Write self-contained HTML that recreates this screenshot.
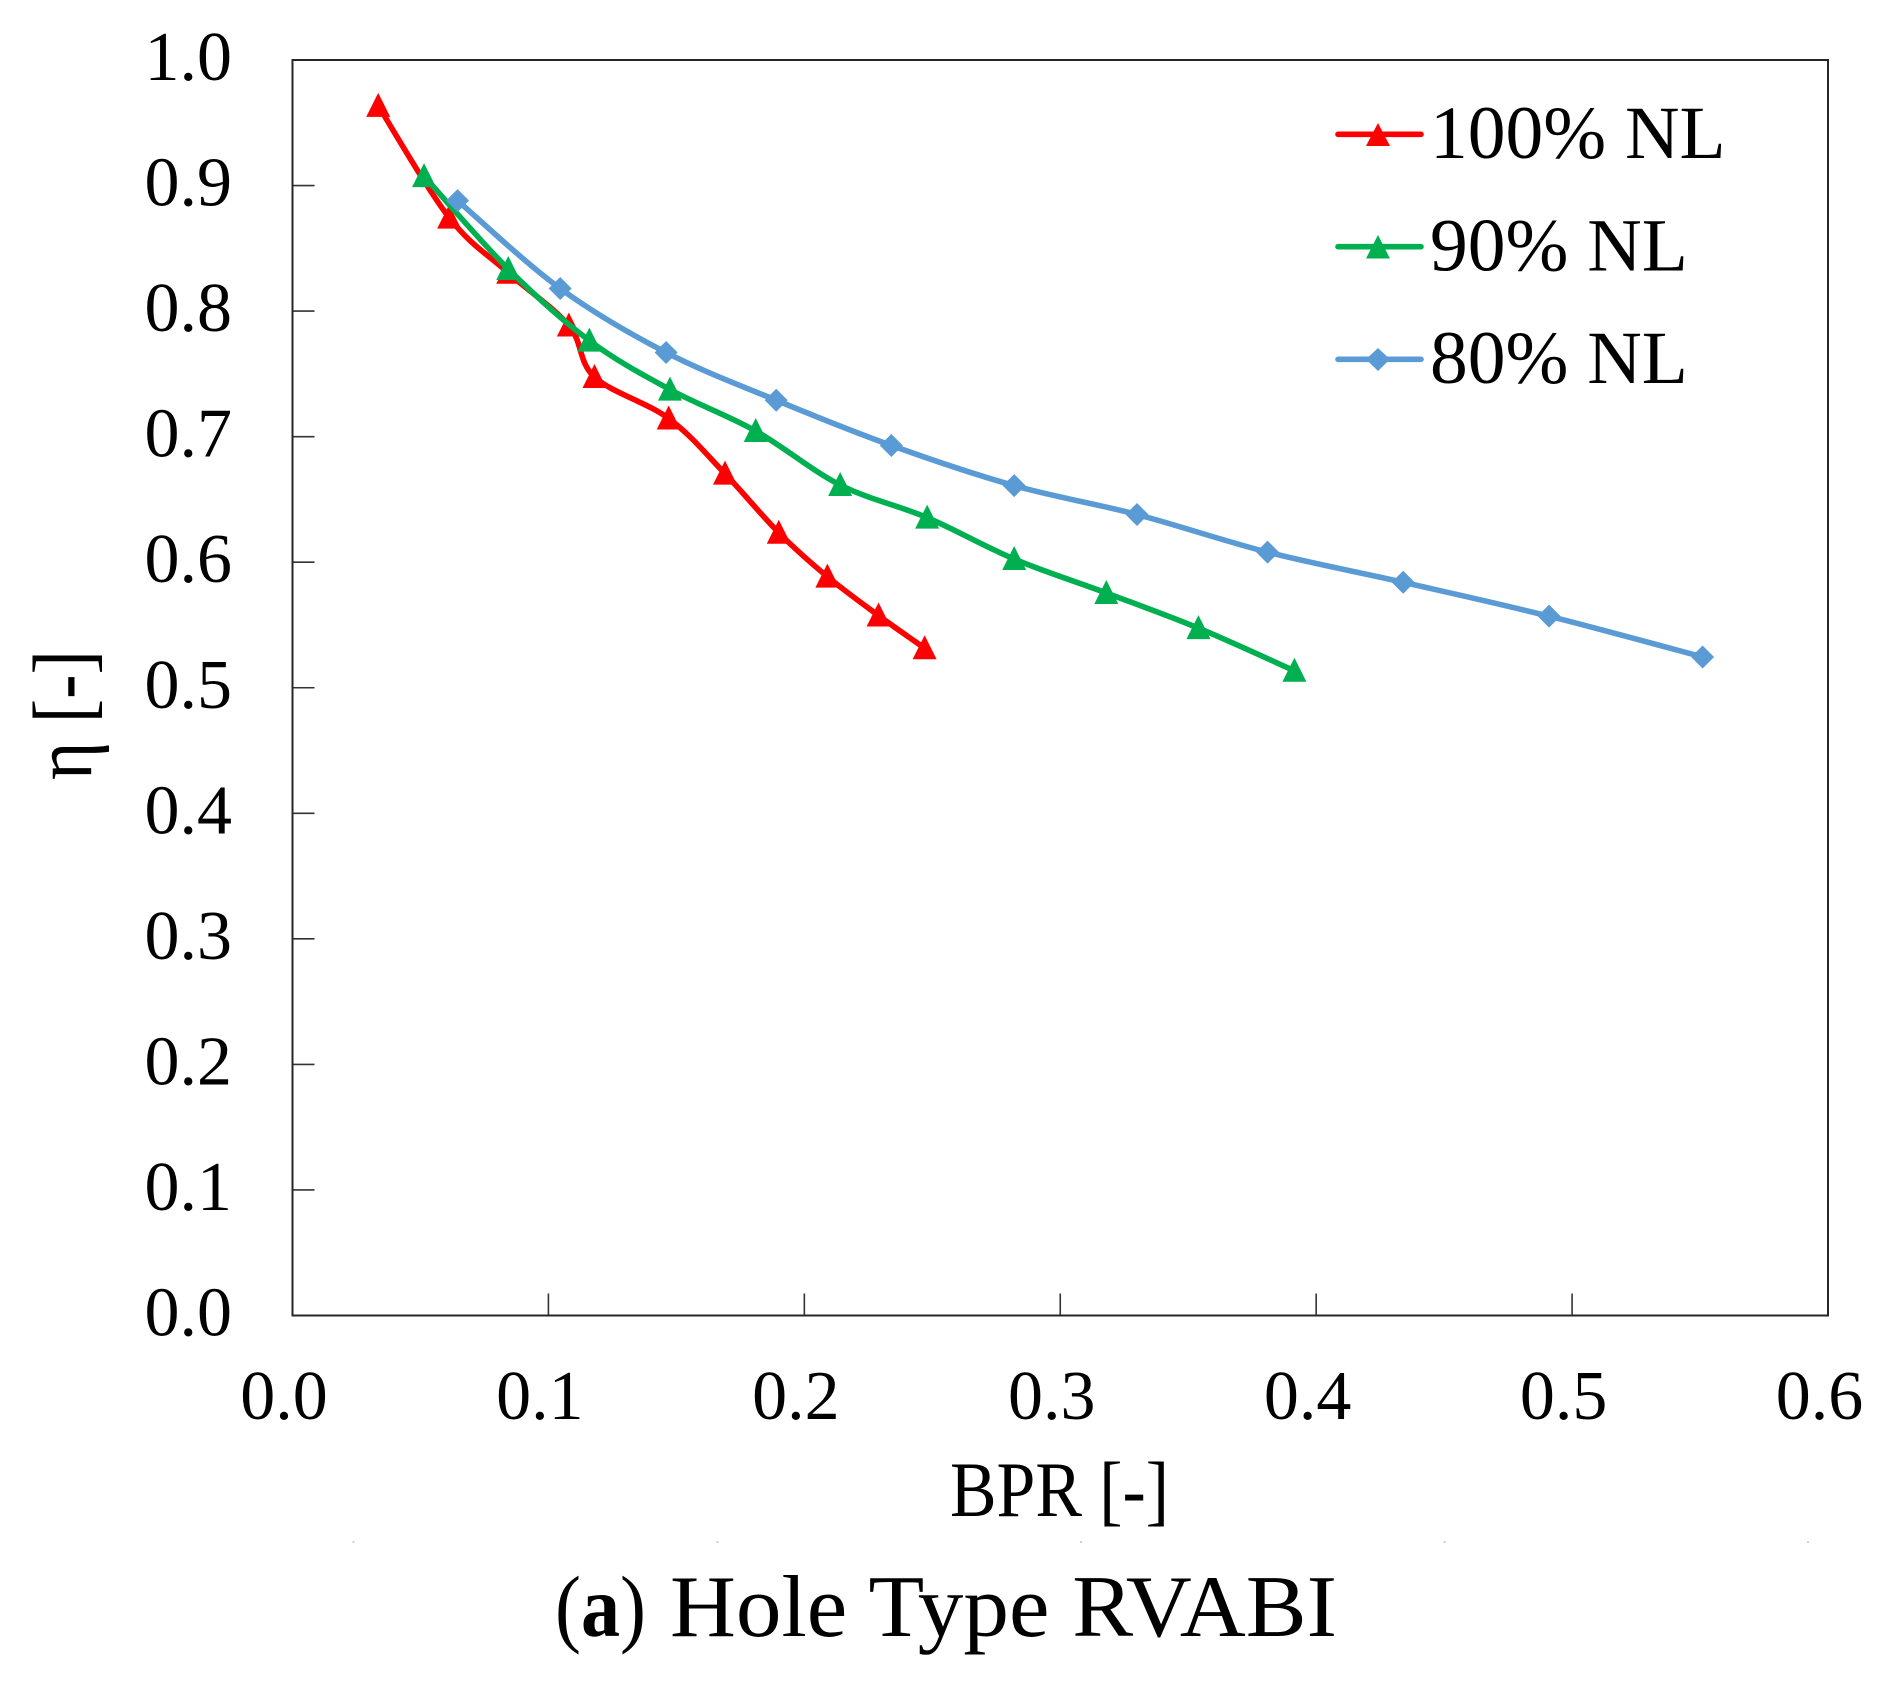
<!DOCTYPE html>
<html lang="en">
<head>
<meta charset="utf-8">
<title>Hole Type RVABI</title>
<style>
html,body{margin:0;padding:0;background:#fff;}
svg{display:block;}
text{font-family:"Liberation Serif",serif;fill:#000;}
</style>
</head>
<body>
<svg id="chart" width="1891" height="1691" viewBox="0 0 1891 1691" xmlns="http://www.w3.org/2000/svg">
  <rect x="0" y="0" width="1891" height="1691" fill="#fff"/>
  <g id="ticks"></g>
  <rect x="292.5" y="60" width="1535.5" height="1255.5" fill="none" stroke="#262626" stroke-width="2"/>
  <g id="labels"></g>
  <g id="series"></g>
  <text transform="translate(91,780) rotate(-90)" font-size="84" textLength="130" lengthAdjust="spacingAndGlyphs">η [-]</text>
  <text x="950" y="1516" font-size="78" textLength="219" lengthAdjust="spacingAndGlyphs">BPR [-]</text>
  <text x="555" y="1636" font-size="87" textLength="91" lengthAdjust="spacingAndGlyphs">(<tspan font-weight="bold">a</tspan>)</text>
  <text x="670" y="1636" font-size="88" textLength="667" lengthAdjust="spacingAndGlyphs">Hole Type RVABI</text>
  <g>
    <g>
      <line x1="1338" y1="134.3" x2="1421" y2="134.3" stroke="#ff0000" stroke-width="5.6" stroke-linecap="round"/>
      <polygon points="1378,123 1390,146 1366,146" fill="#ff0000"/>
      <text x="1430" y="158" font-size="75.5">100% NL</text>
    </g>
    <g>
      <line x1="1338" y1="246.7" x2="1421" y2="246.7" stroke="#00b050" stroke-width="5.6" stroke-linecap="round"/>
      <polygon points="1378,235 1390,258.5 1366,258.5" fill="#00b050"/>
      <text x="1430" y="270.7" font-size="75.5">90% NL</text>
    </g>
    <g>
      <line x1="1338" y1="359.3" x2="1421" y2="359.3" stroke="#5b9bd5" stroke-width="5.6" stroke-linecap="round"/>
      <polygon points="1378,348 1390,359.3 1378,371 1366,359.3" fill="#5b9bd5"/>
      <text x="1430" y="383" font-size="75.5">80% NL</text>
    </g>
  </g>
  <g fill="#d0d0d0">
    <rect x="352.5" y="1541" width="2" height="2"/>
    <rect x="716.5" y="1541" width="2" height="2"/>
    <rect x="1080" y="1541" width="2" height="2"/>
    <rect x="1443.5" y="1541" width="2" height="2"/>
    <rect x="1807" y="1541" width="2" height="2"/>
  </g>
</svg>
<script>
const xTickLabels = ["0.0","0.1","0.2","0.3","0.4","0.5","0.6"];
const yTickLabels = ["0.0","0.1","0.2","0.3","0.4","0.5","0.6","0.7","0.8","0.9","1.0"];
const xTickValues = [0,0.1,0.2,0.3,0.4,0.5,0.6];
const yTickValues = [0,0.1,0.2,0.3,0.4,0.5,0.6,0.7,0.8,0.9,1.0];

const nl100X = [0.0335,0.0612,0.0843,0.108,0.118,0.147,0.169,0.190,0.209,0.229,0.247];
const nl100Y = [0.9635,0.8745,0.8305,0.7885,0.7475,0.7145,0.6705,0.6235,0.5885,0.5575,0.5315];
const nl90X = [0.0514,0.0843,0.116,0.1475,0.181,0.214,0.248,0.282,0.318,0.354,0.3915];
const nl90Y = [0.9075,0.8335,0.7765,0.7375,0.7045,0.6615,0.6355,0.6025,0.5755,0.5475,0.5135];
const nl80X = [0.0645,0.1046,0.146,0.189,0.234,0.282,0.330,0.381,0.434,0.491,0.551];
const nl80Y = [0.888,0.818,0.767,0.729,0.693,0.661,0.638,0.608,0.584,0.557,0.5245];

const NS = "http://www.w3.org/2000/svg";
const plotLeft = 292.5, plotRight = 1828, plotTop = 60, plotBottom = 1315.5;
function sx(v){ return plotLeft + v / 0.6 * (plotRight - plotLeft); }
function sy(v){ return plotBottom - v / 1.0 * (plotBottom - plotTop); }

function make(tag, attrs, parent){
  const el = document.createElementNS(NS, tag);
  for (const k in attrs) el.setAttribute(k, attrs[k]);
  parent.appendChild(el);
  return el;
}

const ticksG = document.getElementById("ticks");
const labelsG = document.getElementById("labels");

xTickValues.forEach(function(v, i){
  if (i > 0 && i < xTickValues.length - 1) {
    const t = make("line", {x1:sx(v), x2:sx(v), y1:plotBottom, y2:plotBottom-22, stroke:"#333", "stroke-width":1.6}, ticksG);
    
    
  }
  const l = make("text", {x:sx(v)-8.5, y:1419, "font-size":70, "text-anchor":"middle"}, labelsG);
  l.textContent = xTickLabels[i];
  
  
});

yTickValues.forEach(function(v, i){
  if (i > 0 && i < yTickValues.length - 1) {
    const t = make("line", {x1:plotLeft, x2:plotLeft+22, y1:sy(v), y2:sy(v), stroke:"#333", "stroke-width":1.6}, ticksG);
    
    
  }
  const l = make("text", {x:232, y:sy(v)+20, "font-size":70, "text-anchor":"end"}, labelsG);
  l.textContent = yTickLabels[i];
  
  
});

function smoothPath(xs, ys){
  const p = xs.map(function(x, i){ return [sx(x), sy(ys[i])]; });
  let d = "M" + p[0][0] + " " + p[0][1];
  for (let i = 0; i < p.length - 1; i++) {
    const a = p[Math.max(i-1,0)], b = p[i], c = p[i+1], e = p[Math.min(i+2,p.length-1)];
    d += " C" + (b[0]+(c[0]-a[0])/6) + " " + (b[1]+(c[1]-a[1])/6) + " " +
         (c[0]-(e[0]-b[0])/6) + " " + (c[1]-(e[1]-b[1])/6) + " " + c[0] + " " + c[1];
  }
  return d;
}

function drawSeries(xs, ys, color, shape, name){
  const g = make("g", {}, document.getElementById("series"));
  
  
  const line = make("path", {d:smoothPath(xs, ys), fill:"none", stroke:color, "stroke-width":5.6, "stroke-linejoin":"round"}, g);
  
  
  xs.forEach(function(x, i){
    const cx = sx(x), cy = sy(ys[i]);
    const pts = shape === "triangle"
      ? [cx, cy-13, cx+12, cy+11, cx-12, cy+11]
      : [cx, cy-11.5, cx+11.5, cy, cx, cy+11.5, cx-11.5, cy];
    const m = make("polygon", {points:pts.join(","), fill:color}, g);
    
    
  });
}

drawSeries(nl100X, nl100Y, "#ff0000", "triangle", "series-100-nl");
drawSeries(nl90X, nl90Y, "#00b050", "triangle", "series-90-nl");
drawSeries(nl80X, nl80Y, "#5b9bd5", "diamond", "series-80-nl");
</script>
</body>
</html>
